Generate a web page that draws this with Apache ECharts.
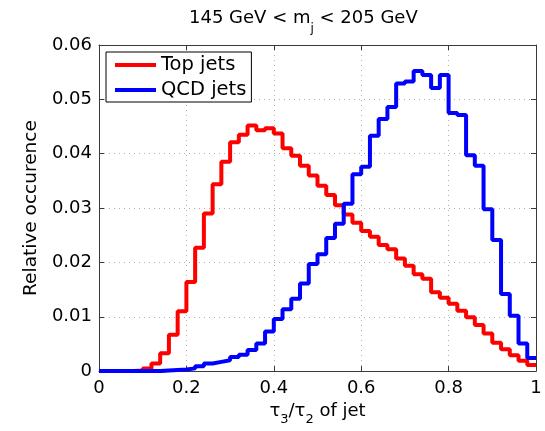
<!DOCTYPE html>
<html>
<head>
<meta charset="utf-8">
<script src="https://cdn.jsdelivr.net/npm/echarts@6/dist/echarts.min.js"></script>
<style>
  html, body { margin: 0; padding: 0; background: #fff; }
  #chart { width: 545px; height: 431px; }
</style>
</head>
<body>
<div id="chart"></div>
<script>
// histogram bins: 50 bins of width 0.02 on [0, 1]
const binWidth = 0.02;
const xTicks = [0, 0.2, 0.4, 0.6, 0.8, 1];
const yTicks = [0, 0.01, 0.02, 0.03, 0.04, 0.05, 0.06];

const topJets = [
    0, 0, 0, 0, 0.0001, 0.0005, 0.0014, 0.0033, 0.0067, 0.011,
    0.0164, 0.0227, 0.029, 0.0344, 0.0385, 0.0421, 0.0435, 0.0452, 0.0443, 0.0447,
    0.0437, 0.041, 0.0396, 0.0378, 0.036, 0.0341, 0.0324, 0.0305, 0.0288, 0.0273,
    0.0258, 0.0247, 0.0232, 0.0224, 0.0207, 0.0194, 0.0178, 0.017, 0.0145, 0.0135,
    0.0124, 0.0111, 0.0099, 0.0085, 0.0069, 0.0052, 0.004, 0.0029, 0.0019, 0.0011
];

const qcdJets = [
    0, 0, 0, 0, 0, 0, 0, 0.0001, 0.0002, 0.0003,
    0.0005, 0.0009, 0.0014, 0.0017, 0.002, 0.0026, 0.003, 0.0039, 0.0051, 0.0073,
    0.0096, 0.0114, 0.0133, 0.0161, 0.0197, 0.0215, 0.0245, 0.0271, 0.0308, 0.0362,
    0.0376, 0.0433, 0.0464, 0.0486, 0.0529, 0.0533, 0.0552, 0.0545, 0.0521, 0.0545,
    0.0475, 0.0471, 0.0397, 0.0378, 0.0298, 0.0241, 0.0142, 0.0102, 0.0051, 0.0024
];

const seriesNames = ['Top jets', 'QCD jets'];
const colors = ['#ff0000', '#0000ff'];

// stairs: one point at each bin's left edge, plus closing point at the right edge
function stairs(values) {
    var pts = values.map(function (v, i) { return [+(i * binWidth).toFixed(2), v]; });
    pts.push([xTicks[xTicks.length - 1], values[values.length - 1]]);
    return pts;
}

var chart = echarts.init(document.getElementById('chart'));
const font = 'DejaVu Sans';
const axisColor = '#3a3a3a';

var frameAxis = {
    type: 'value',
    axisLine: { show: true, onZero: false, lineStyle: { color: axisColor, width: 1 } },
    axisTick: { show: true, inside: true, length: 5, lineStyle: { color: axisColor } },
    axisLabel: { show: false },
    splitLine: { show: false }
};

var option = {
    animation: false,
    backgroundColor: '#fff',
    title: {
        text: '{t|145 GeV < m}{s|j}{t| < 205 GeV}',
        left: 184,
        top: 4,
        textStyle: {
            rich: {
                t: { fontFamily: font, fontSize: 18, fontWeight: 'normal', color: '#000', lineHeight: 26, verticalAlign: 'top' },
                s: { fontFamily: font, fontSize: 12, fontWeight: 'normal', color: '#000', lineHeight: 26, verticalAlign: 'bottom' }
            }
        }
    },
    legend: {
        data: seriesNames,
        orient: 'vertical',
        left: 106,
        top: 52,
        padding: [2, 5, 1, 9],
        itemGap: 3,
        itemWidth: 41,
        itemHeight: 4,
        icon: 'rect',
        backgroundColor: '#fff',
        borderColor: '#000',
        borderWidth: 1,
        borderRadius: 0,
        textStyle: { fontFamily: font, fontSize: 19.5, color: '#000', lineHeight: 22 }
    },
    grid: { left: 99, top: 45, width: 437, height: 339, containLabel: false },
    xAxis: [
        {
            type: 'value',
            min: 0,
            max: 1,
            interval: 0.2,
            position: 'bottom',
            name: '{t|τ}{s|3}{t|/τ}{s|2}{t| of jet}',
            nameLocation: 'middle',
            nameGap: 19,
            nameTextStyle: {
                rich: {
                    t: { fontFamily: font, fontSize: 18, color: '#000', lineHeight: 24, verticalAlign: 'top' },
                    s: { fontFamily: font, fontSize: 13, color: '#000', lineHeight: 24, verticalAlign: 'bottom' }
                }
            },
            axisLine: { show: true, onZero: false, lineStyle: { color: axisColor, width: 1 } },
            axisTick: { show: true, inside: true, length: 5, lineStyle: { color: axisColor } },
            axisLabel: { fontFamily: font, fontSize: 18, color: '#000', margin: 8 },
            splitLine: { show: true, lineStyle: { color: '#b0b0b0', type: [1, 4], width: 1 } }
        },
        Object.assign({}, frameAxis, { min: 0, max: 1, interval: 0.2, position: 'top' })
    ],
    yAxis: [
        {
            type: 'value',
            min: 0,
            max: 0.06,
            interval: 0.01,
            position: 'left',
            name: 'Relative occurence',
            nameLocation: 'middle',
            nameGap: 55,
            nameTextStyle: { fontFamily: font, fontSize: 18.5, color: '#000' },
            axisLine: { show: true, onZero: false, lineStyle: { color: axisColor, width: 1 } },
            axisTick: { show: true, inside: true, length: 5, lineStyle: { color: axisColor } },
            axisLabel: { fontFamily: font, fontSize: 18, color: '#000', margin: 7 },
            splitLine: { show: true, lineStyle: { color: '#b0b0b0', type: [1, 4], width: 1 } }
        },
        Object.assign({}, frameAxis, { min: 0, max: 0.06, interval: 0.01, position: 'right' })
    ],
    series: [
        {
            name: seriesNames[0],
            type: 'line',
            step: 'end',
            showSymbol: false,
            symbol: 'none',
            color: colors[0],
            lineStyle: { width: 4, color: colors[0] },
            data: stairs(topJets)
        },
        {
            name: seriesNames[1],
            type: 'line',
            step: 'end',
            showSymbol: false,
            symbol: 'none',
            color: colors[1],
            lineStyle: { width: 4, color: colors[1] },
            data: stairs(qcdJets)
        }
    ]
};

chart.setOption(option);
</script>
</body>
</html>
